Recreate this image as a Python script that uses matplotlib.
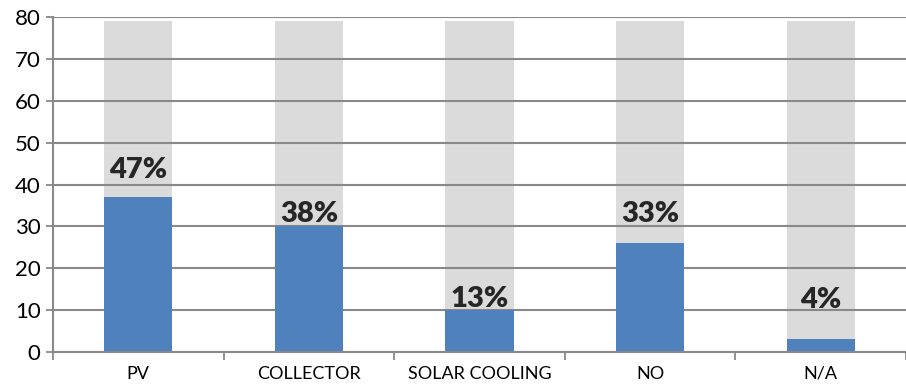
import numpy as np
import matplotlib
matplotlib.use("Agg")
import matplotlib.pyplot as plt

# data
categories = ["PV", "COLLECTOR", "SOLAR COOLING", "NO", "N/A"]
counts = [37, 30, 10, 26, 3]
totals = [79, 79, 79, 79, 79]
pct_labels = ["47%", "38%", "13%", "33%", "4%"]

# label gap above each blue bar (points) - labels sit unevenly in the original
label_gap = [13.5, 3, 2.2, 15, 23]

plt.rcParams['font.family'] = ['Lato', 'DejaVu Sans']

fig = plt.figure(figsize=(9.06, 3.85), dpi=100)
ax = fig.add_axes([0.0585, 0.0857, 0.9415, 0.870])

x = np.arange(len(categories))
w = 0.40
# grey background bars, then grid, then blue bars on top
ax.bar(x, totals, w, color="#dcdbdc", zorder=1)
ax.bar(x, counts, w, color="#4f81bd", zorder=3)

for xi, c, lab, g in zip(x, counts, pct_labels, label_gap):
    ax.annotate(lab, (xi, c), xytext=(0, g), textcoords="offset points",
                ha="center", va="baseline", fontsize=21, fontweight="heavy",
                color="#262626", zorder=4)

ax.set_ylim(0, 80)
ax.set_xlim(-0.5, len(categories) - 0.5)
ax.set_yticks(range(0, 81, 10))
ax.yaxis.grid(True, color="#898989", linewidth=1.5, zorder=2)
ax.set_axisbelow(False)

ax.set_xticks(x)
ax.set_xticklabels(categories, fontsize=13)
ax.set_xticks(np.arange(-0.5, len(categories)), minor=True)
ax.tick_params(axis="x", which="major", length=0, pad=10)
ax.tick_params(axis="x", which="minor", length=6, width=1.3, color="#898989")
ax.tick_params(axis="y", length=5, width=1.3, color="#898989", labelsize=16, pad=4)

for s in ["top", "right"]:
    ax.spines[s].set_visible(False)
for s in ["left", "bottom"]:
    ax.spines[s].set_color("#898989")
    ax.spines[s].set_linewidth(1.5)
ax.spines["bottom"].set_zorder(5)

fig.savefig("out.png", dpi=100)
